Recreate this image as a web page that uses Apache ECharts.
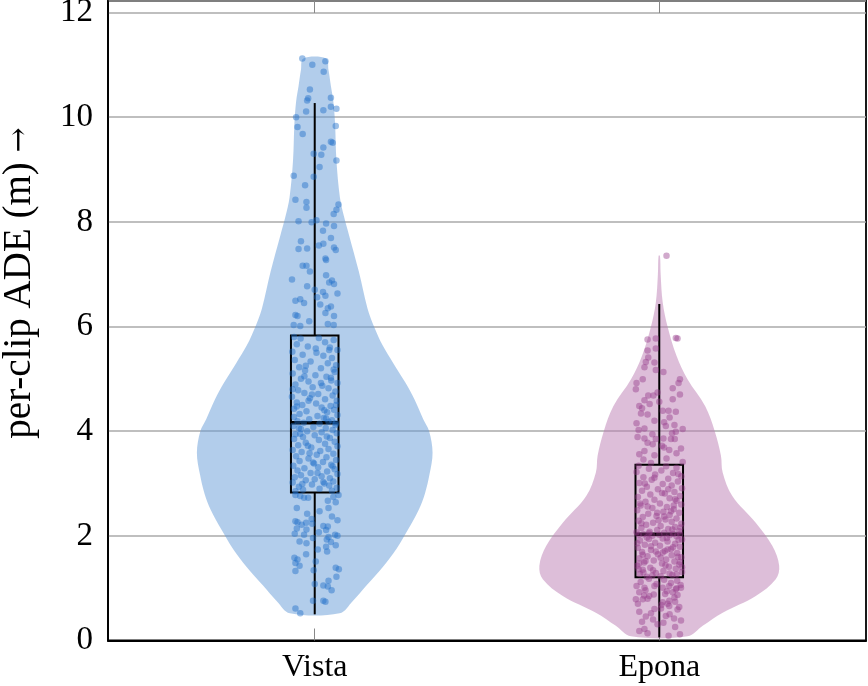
<!DOCTYPE html>
<html>
<head>
<meta charset="utf-8">
<script src="https://cdn.jsdelivr.net/npm/echarts@6/dist/echarts.min.js"></script>
<style>
  html, body { margin: 0; padding: 0; background: #fff; }
  #chart { width: 868px; height: 686px; }
</style>
</head>
<body>
<div id="chart"></div>
<script>
const categories = ['Vista', 'Epona'];
const yTicks = [0, 2, 4, 6, 8, 10, 12];
const yTitle = 'per-clip ADE (m)';

// violin outlines: [value, half width in x units]
const vistaViolin = [[0.52,0.072],[0.75,0.11],[1.05,0.15],[1.40,0.197],[1.75,0.237],[2.11,0.27],[2.50,0.302],[2.81,0.32],[3.17,0.333],[3.59,0.342],[4.00,0.332],[4.23,0.315],[4.60,0.29],[4.93,0.263],[5.30,0.228],[5.64,0.197],[6.00,0.172],[6.35,0.153],[7.05,0.128],[7.76,0.099],[8.10,0.085],[8.47,0.073],[9.17,0.063],[9.88,0.059],[10.30,0.054],[10.59,0.047],[10.90,0.04],[11.12,0.033]];
const eponaViolin = [[0.08,0.082],[0.28,0.126],[0.53,0.184],[0.85,0.28],[1.17,0.338],[1.43,0.348],[1.81,0.328],[2.25,0.28],[2.76,0.212],[3.21,0.184],[3.53,0.179],[4.00,0.161],[4.48,0.133],[4.99,0.082],[5.44,0.05],[6.00,0.024],[6.46,0.01],[7.00,0.004],[7.35,0.002]];

// box stats: [whisker low, q1, median, q3, whisker high]
const vistaBox = [0.5, 2.83, 4.16, 5.83, 10.27];
const eponaBox = [0.06, 1.21, 2.03, 3.36, 6.43];

// jittered clips: [x offset, value]
const vistaPoints = [
  [-0.036,11.12],[-0.007,11.00],[0.031,11.07],[0.026,10.87],[-0.014,10.53],[-0.019,10.36],[-0.022,10.32],[0.047,10.37],[0.047,10.20],[0.063,10.16],[0.025,10.13],[-0.025,10.11],
  [-0.054,10.0],[-0.05,9.81],[-0.035,9.68],[0.061,9.83],[0.047,9.53],[0.052,9.51],[0.025,9.42],[-0.003,9.30],[0.019,9.28],[0.063,9.17],[0.014,9.05],[-0.061,8.88],[-0.003,8.86],[-0.028,8.70],
  [-0.056,8.42],[-0.024,8.38],[-0.024,8.27],[0.069,8.33],[0.063,8.23],[0.055,8.15],[0.005,8.03],[-0.047,8.01],[-0.009,7.99],[0.033,7.97],[0.056,7.92],[0.024,7.83],[0.047,7.69],[-0.04,7.63],
  [0.025,7.58],[0.012,7.55],[0.056,7.51],[-0.047,7.48],[-0.022,7.49],[0.061,7.46],[0.031,7.30],[0.033,7.27],[-0.035,7.16],[-0.024,7.16],[-0.014,7.05],[0.033,6.98],[-0.066,6.90],[0.05,6.88],
  [0.042,6.84],[0.056,6.81],[-0.022,6.77],[0.0,6.70],[0.024,6.66],[0.066,6.63],[0.031,6.59],[0.007,6.56],[-0.042,6.52],[-0.056,6.49],[-0.031,6.45],[0.016,6.42],[0.047,6.38],[0.038,6.35],
  [0.031,6.26],[-0.056,6.22],[-0.05,6.20],[0.056,6.20],[-0.016,6.10],[0.038,6.05],[0.055,6.03],[-0.061,6.03],[-0.042,6.01],
  [-0.060,5.80],[-0.041,5.77],[0.012,5.78],[0.055,5.74],[0.030,5.70],[-0.052,5.66],[-0.020,5.62],[0.044,5.60],[0.066,5.55],[-0.065,5.52],[0.005,5.50],[-0.035,5.46],[0.025,5.44],[0.050,5.40],
  [-0.058,5.36],[-0.012,5.33],[0.038,5.30],[0.062,5.26],[-0.045,5.22],[0.018,5.20],[-0.028,5.16],[0.058,5.13],[-0.064,5.10],[0.002,5.07],[0.034,5.04],[-0.040,5.00],[0.048,4.97],[-0.018,4.95],
  [0.066,4.92],[-0.056,4.89],[0.022,4.87],[-0.006,4.84],[0.040,4.82],[-0.048,4.78],[0.060,4.76],[-0.030,4.73],[0.010,4.71],[0.052,4.68],[-0.066,4.66],[-0.014,4.63],[0.030,4.61],[0.064,4.58],
  [-0.052,4.55],[0.004,4.53],[-0.036,4.50],[0.046,4.48],[0.020,4.45],[-0.060,4.43],[0.056,4.41],[-0.024,4.38],[0.036,4.36],[-0.044,4.33],[0.066,4.31],[0.008,4.29],[-0.060,4.27],[0.026,4.25],
  [-0.016,4.23],[0.050,4.21],[-0.050,4.19],[0.040,4.18],[-0.032,4.16],[0.014,4.14],[0.060,4.12],[-0.062,4.10],[-0.004,4.08],[0.032,4.06],[-0.040,4.04],[0.052,4.02],[-0.022,4.00],[0.020,3.98],
  [0.064,3.96],[-0.056,3.94],[0.000,3.92],[-0.034,3.89],[0.044,3.87],[-0.060,3.85],[0.012,3.83],[0.058,3.80],[-0.026,3.78],[0.030,3.76],[-0.048,3.73],[0.066,3.71],[-0.010,3.69],[0.040,3.66],
  [-0.064,3.64],[0.016,3.62],[-0.038,3.60],[0.054,3.57],[0.006,3.55],[-0.054,3.52],[0.034,3.50],[-0.018,3.48],[0.062,3.45],[-0.044,3.43],[0.024,3.41],[-0.002,3.38],[0.048,3.36],[-0.062,3.34],
  [0.010,3.31],[-0.030,3.29],[0.058,3.27],[-0.050,3.25],[0.036,3.23],[-0.012,3.20],[0.066,3.18],[-0.040,3.16],[0.020,3.14],[-0.058,3.12],[0.044,3.10],[0.000,3.08],[-0.026,3.06],[0.054,3.04],
  [-0.064,3.02],[0.028,3.00],[-0.008,2.98],[0.042,2.96],[-0.046,2.94],[0.064,2.92],[0.014,2.90],[-0.034,2.88],[0.050,2.86],[-0.056,2.85],
  [0.003,5.58],[-0.026,5.25],[0.047,5.02],[-0.008,4.70],[0.028,4.40],[-0.046,4.06],[0.035,3.90],[-0.015,3.58],[0.052,3.33],[-0.036,2.99],[0.018,4.92],[-0.052,4.47],[0.061,4.15],
  [-0.020,3.72],[0.008,3.20],[0.042,5.55],[-0.030,5.05],[0.062,4.50],[-0.042,3.95],[0.025,3.03],[-0.064,4.80],[0.033,4.24],[-0.005,3.40],[0.055,5.18],[-0.018,4.58],
  [-0.056,2.78],[-0.042,2.76],[-0.031,2.73],[-0.019,2.73],[0.054,2.74],[0.069,2.78],[0.038,2.67],[0.061,2.64],[-0.052,2.53],[0.04,2.53],[0.014,2.47],[-0.022,2.42],[0.05,2.37],[-0.009,2.32],
  [0.066,2.30],[-0.056,2.28],[-0.05,2.26],[-0.025,2.25],[-0.007,2.23],[-0.038,2.21],[0.025,2.19],[0.038,2.18],[-0.052,2.14],[-0.024,2.12],[0.033,2.11],[0.012,2.07],[-0.058,2.04],[-0.031,2.02],
  [0.059,2.02],[0.066,2.0],[0.04,1.98],[-0.005,1.96],[0.035,1.93],[-0.044,1.89],[0.047,1.88],[-0.024,1.86],[0.061,1.82],[0.033,1.79],[0.009,1.74],[0.036,1.70],[-0.025,1.65],[-0.059,1.58],
  [-0.05,1.55],[0.003,1.51],[-0.056,1.48],[-0.044,1.43],[0.061,1.39],[0.07,1.36],[-0.003,1.34],[-0.056,1.33],[0.063,1.22],[0.04,1.14],[0.025,1.05],[0.038,1.03],[0.049,0.96],[0.0,1.08],
  [-0.005,0.76],[0.025,0.76],[0.031,0.74],[-0.056,0.61],[-0.042,0.52]
];
const eponaPoints = [
  [0.021,7.35],[0.048,5.78],[0.053,5.77],[-0.034,5.75],[-0.01,5.77],[-0.01,5.58],[-0.034,5.54],[-0.032,5.41],[-0.039,5.32],[-0.014,5.31],[-0.043,5.22],[-0.01,5.17],[0.012,5.13],[0.06,4.99],
  [0.056,4.92],[-0.066,4.92],[-0.048,4.99],[0.039,4.82],[-0.068,4.80],[-0.005,4.74],[-0.032,4.68],[-0.017,4.68],[0.0,4.56],[-0.043,4.59],[0.039,4.61],[-0.058,4.48],[0.01,4.39],[0.027,4.39],
  [0.048,4.37],[-0.034,4.32],[-0.053,4.34],[-0.066,4.15],[0.014,4.17],[-0.014,4.20],[0.019,4.10],[-0.043,4.05],[0.048,3.99],[0.068,4.04],[0.037,3.96],[-0.063,3.89],[-0.043,3.86],[-0.01,3.85],
  [0.012,3.86],[0.034,3.85],[0.045,3.85],[-0.034,3.78],[-0.019,3.75],[0.063,3.67],[0.014,3.69],[0.029,3.64],[-0.043,3.62],[-0.058,3.56],[-0.014,3.54],[0.021,3.48],[0.068,3.41],[-0.024,3.39],
  [0.03,4.26],[-0.05,4.44],[0.06,4.70],[-0.02,3.94],[0.05,3.58],[-0.06,4.02],[0.008,3.72],[-0.028,4.52],[0.044,4.12],[-0.046,3.46],
  [-0.060,3.34],[0.020,3.33],[0.050,3.30],[-0.030,3.28],[0.006,3.25],[-0.066,3.22],[0.040,3.20],[-0.012,3.17],[0.064,3.14],[-0.046,3.12],[0.026,3.09],[-0.022,3.07],[0.054,3.04],[-0.058,3.01],
  [0.010,2.99],[0.036,2.96],[-0.036,2.94],[0.066,2.91],[-0.004,2.89],[-0.050,2.86],[0.044,2.84],[0.016,2.81],[-0.026,2.79],[0.060,2.76],[-0.062,2.74],[0.030,2.72],[-0.014,2.69],[0.050,2.67],
  [-0.040,2.65],[0.002,2.62],[0.064,2.60],[-0.054,2.58],[0.022,2.55],[-0.020,2.53],[0.042,2.51],[-0.064,2.49],[0.012,2.46],[0.058,2.44],[-0.032,2.42],[0.030,2.40],[-0.008,2.38],[-0.048,2.36],
  [0.050,2.33],[0.018,2.31],[-0.060,2.29],[0.036,2.27],[-0.018,2.25],[0.064,2.23],[-0.038,2.21],[0.004,2.19],[0.046,2.17],[-0.052,2.15],[0.026,2.13],[-0.006,2.11],[0.058,2.09],[-0.066,2.07],
  [0.014,2.06],[-0.030,2.05],[0.040,2.04],[-0.046,2.03],[0.060,2.03],[-0.060,2.02],[0.000,2.02],[0.030,2.01],[-0.020,2.00],[0.050,1.99],[-0.036,1.97],[0.010,1.95],[0.066,1.93],[-0.056,1.91],
  [0.024,1.89],[-0.012,1.87],[0.046,1.85],[-0.042,1.83],[0.002,1.81],[0.060,1.79],[-0.062,1.77],[0.034,1.75],[-0.024,1.73],[0.016,1.71],[-0.050,1.69],[0.052,1.67],[-0.004,1.65],[0.036,1.63],
  [-0.034,1.61],[0.064,1.59],[-0.058,1.57],[0.020,1.55],[-0.016,1.53],[0.044,1.51],[-0.044,1.49],[0.008,1.47],[0.058,1.45],[-0.064,1.43],[0.028,1.41],[-0.026,1.39],[0.048,1.37],[-0.048,1.35],
  [0.012,1.33],[0.066,1.31],[-0.010,1.29],[-0.056,1.27],[0.038,1.25],[0.004,1.23],[-0.036,1.22],
  [0.055,3.18],[-0.042,3.00],[0.008,2.82],[-0.056,2.62],[0.034,2.47],[-0.002,2.30],[0.062,2.16],[-0.028,2.08],[0.022,1.96],[-0.064,1.86],[0.040,1.78],[-0.010,1.70],[0.054,1.60],[-0.040,1.52],
  [0.018,1.44],[-0.060,1.36],[0.030,1.28],[-0.020,1.24],[0.046,2.70],[-0.034,2.56],[0.014,2.37],[-0.052,2.24],[0.056,1.92],[-0.024,1.80],[0.004,1.58],[0.066,1.40],[-0.046,1.30],[0.026,2.89],
  [-0.014,3.11],[0.042,2.58],[-0.030,1.94],[0.010,1.68],[-0.058,1.47],[0.050,1.26],[-0.006,2.44],[0.038,2.12],[-0.048,1.64],[0.060,1.50],[-0.018,1.34],[0.024,1.74],
  [-0.066,1.04],[-0.043,1.01],[-0.014,1.04],[0.01,1.01],[0.029,1.04],[0.048,0.98],[0.063,1.01],[-0.058,0.92],[-0.029,0.85],[0.017,0.89],[0.039,0.92],[0.053,0.87],[-0.068,0.79],[-0.048,0.79],
  [-0.034,0.80],[0.01,0.73],[0.029,0.76],[0.046,0.74],[-0.014,0.60],[0.005,0.61],[0.029,0.66],[0.053,0.59],[-0.058,0.55],[-0.039,0.46],[0.019,0.47],[0.043,0.42],[0.063,0.38],[-0.005,0.31],
  [-0.043,0.22],[-0.058,0.18],[0.027,0.09],[-0.030,1.18],[0.014,1.16],[0.052,1.14],[-0.054,1.12],[0.034,1.10],[-0.008,1.08],[0.062,1.06],[-0.040,0.96],[0.022,0.94],[-0.016,0.88],[0.044,0.82],
  [-0.062,0.70],[0.006,0.68],[0.058,0.64],[-0.024,0.52],[0.030,0.50],[-0.050,0.36],[0.012,0.34],[0.046,0.26],[-0.034,0.14],[0.060,0.12],[-0.018,0.40],[0.024,0.70],[-0.044,0.86],[0.050,1.00]
];

const violins = [vistaViolin, eponaViolin];
const boxes = [vistaBox, eponaBox];
const violinFill = ['rgba(101,155,215,0.5)', 'rgba(187,125,179,0.5)'];
const boxHalf = 0.069;
const font = 'Liberation Serif';

const chart = echarts.init(document.getElementById('chart'));

function renderViolin(params, api) {
  const i = params.dataIndex;
  const c = api.value(0);
  const prof = violins[i];
  const left = prof.map(p => api.coord([c - p[1], p[0]]));
  const right = prof.slice().reverse().map(p => api.coord([c + p[1], p[0]]));
  return {
    type: 'polygon',
    shape: { points: left.concat(right), smooth: 0.35 },
    style: { fill: violinFill[i], stroke: null }
  };
}

function renderBox(params, api) {
  const i = params.dataIndex;
  const c = api.value(0);
  const b = boxes[i];
  const tl = api.coord([c - boxHalf, b[3]]);
  const br = api.coord([c + boxHalf, b[1]]);
  const mid = api.coord([c, b[2]]);
  const lo = api.coord([c, b[0]]);
  const hi = api.coord([c, b[4]]);
  const st = { stroke: '#000', lineWidth: 2, fill: null };
  return {
    type: 'group',
    children: [
      { type: 'line', shape: { x1: hi[0], y1: hi[1], x2: hi[0], y2: tl[1] }, style: st },
      { type: 'line', shape: { x1: lo[0], y1: br[1], x2: lo[0], y2: lo[1] }, style: st },
      { type: 'rect', shape: { x: tl[0], y: tl[1], width: br[0] - tl[0], height: br[1] - tl[1] }, style: st },
      { type: 'line', shape: { x1: tl[0], y1: mid[1], x2: br[0], y2: mid[1] }, style: { stroke: '#000', lineWidth: 3.5 } }
    ]
  };
}

const xAxisBase = {
  type: 'value',
  min: 0.4,
  max: 2.6,
  splitLine: { show: false }
};

chart.setOption({
  animation: false,
  grid: { left: 108, top: 1, width: 758, height: 639.5, outerBoundsMode: 'none', containLabel: false, show: true, borderColor: '#000', borderWidth: 1.8, backgroundColor: 'transparent' },
  graphic: [{
    type: 'text',
    x: 20, y: 283,
    rotation: Math.PI / 2,
    style: {
      text: '{t|' + yTitle + '\u00a0}{a|\u2192}',
      fill: '#000', align: 'center', verticalAlign: 'middle',
      rich: {
        t: { fontFamily: font, fontSize: 39, fill: '#000' },
        a: { fontFamily: 'DejaVu Serif', fontSize: 30, fill: '#000' }
      }
    },
    silent: true
  }],
  xAxis: [
    Object.assign({}, xAxisBase, {
      position: 'bottom',
      axisLine: { show: true, lineStyle: { color: '#000', width: 1.8 } },
      axisTick: { show: true, inside: true, length: 12, customValues: [1, 2], lineStyle: { color: '#888', width: 1 } },
      axisLabel: {
        customValues: [1, 2],
        formatter: v => categories[Math.round(v) - 1] || '',
        color: '#000', fontFamily: font, fontSize: 32, margin: 11
      }
    }),
    Object.assign({}, xAxisBase, {
      position: 'top',
      axisLine: { show: false },
      axisTick: { show: true, inside: true, length: 12, customValues: [1, 2], lineStyle: { color: '#888', width: 1 } },
      axisLabel: { show: false }
    })
  ],
  yAxis: {
    type: 'value',
    min: 0,
    max: 12.22,
    interval: 2,
    axisLine: { show: true, lineStyle: { color: '#000', width: 1.8 } },
    axisTick: { show: false },
    splitLine: { show: true, lineStyle: { color: '#aaa', width: 1.5 } },
    axisLabel: {
      customValues: yTicks,
      color: '#000', fontFamily: font, fontSize: 33, margin: 15
    }
  },
  series: [
    {
      type: 'custom',
      renderItem: renderViolin,
      data: [[1], [2]],
      clip: true,
      silent: true,
      z: 1
    },
    {
      type: 'custom',
      renderItem: renderBox,
      data: [[1], [2]],
      silent: true,
      z: 2
    },
    {
      type: 'scatter',
      data: vistaPoints.map(p => [1 + p[0], p[1]]),
      symbolSize: 6.5,
      itemStyle: { color: 'rgba(30,110,200,0.55)' },
      silent: true,
      z: 3
    },
    {
      type: 'scatter',
      data: eponaPoints.map(p => [2 + p[0], p[1]]),
      symbolSize: 6.5,
      itemStyle: { color: 'rgba(150,60,140,0.55)' },
      silent: true,
      z: 3
    }
  ]
});
</script>
</body>
</html>
